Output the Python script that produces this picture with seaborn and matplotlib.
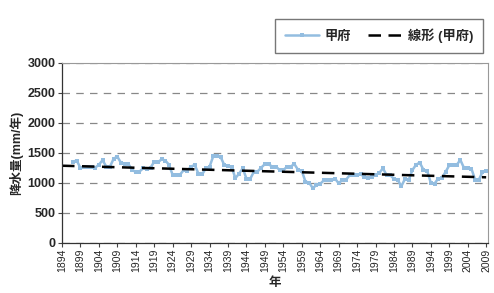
import matplotlib
matplotlib.use('Agg')

import matplotlib.pyplot as plt
import seaborn as sns
import pandas as pd

# ---- data ----
years = list(range(1897, 2010))
rain = [1350, 1370, 1245, 1265, 1255, 1270, 1250, 1300, 1375, 1270,
        1265, 1400, 1435, 1330, 1320, 1310, 1220, 1175, 1185, 1240,
        1235, 1250, 1350, 1340, 1390, 1370, 1300, 1130, 1125, 1135,
        1210, 1200, 1270, 1295, 1150, 1140, 1240, 1265, 1440, 1445,
        1430, 1295, 1280, 1265, 1075, 1150, 1240, 1070, 1060, 1180,
        1185, 1250, 1310, 1305, 1270, 1265, 1215, 1210, 1265, 1270,
        1310, 1215, 1200, 1020, 1000, 910, 960, 980, 1040, 1050,
        1045, 1070, 990, 1045, 1050, 1125, 1130, 1135, 1145, 1090,
        1085, 1095, 1130, 1160, 1240, 1130, 1125, 1065, 1050, 940,
        1065, 1045, 1210, 1300, 1335, 1215, 1200, 995, 985, 1070,
        1080, 1180, 1290, 1300, 1295, 1380, 1245, 1240, 1235, 1050,
        1045, 1180, 1190]
trend_years = [1894, 2009]
trend_values = [1283, 1090]
tick_years = list(range(1894, 2010, 5))
y_ticks = [0, 500, 1000, 1500, 2000, 2500, 3000]

df = pd.DataFrame({"year": years, "rain": rain})
trend = pd.DataFrame({"year": trend_years, "rain": trend_values})

# ---- style ----
sns.set_style("white")
plt.rcParams['font.family'] = ['Liberation Sans', 'Noto Sans CJK JP', 'DejaVu Sans']

fig = plt.figure(figsize=(4.94, 2.93), dpi=100)
ax = fig.add_axes([62 / 494, 1 - 242.7 / 293, 426 / 494, 180 / 293])

sns.lineplot(data=df, x="year", y="rain", ax=ax, color="#93bde0",
             linewidth=1.8, marker="s", markersize=2.8,
             markeredgewidth=0, label="甲府")
sns.lineplot(data=trend, x="year", y="rain", ax=ax, color="black",
             linewidth=1.8, label="線形 (甲府)")
ax.lines[1].set_linestyle((0, (5, 3)))

ax.set_xlim(1894, 2009.5)
ax.set_ylim(0, 3000)
ax.set_yticks(y_ticks)
ax.set_xticks(tick_years)
ax.set_xticklabels([str(y) for y in tick_years], rotation=90, fontsize=7.5)
ax.set_yticklabels([str(v) for v in y_ticks], fontsize=9, fontweight="bold")
ax.tick_params(axis="both", length=3, width=0.8, color="#444444", pad=1.5,
               bottom=True, left=True)

ax.yaxis.grid(True, linestyle=(0, (6, 5)), color="#888888", linewidth=0.9)
ax.xaxis.grid(False)

for side in ["left", "bottom"]:
    ax.spines[side].set_color("#333333")
    ax.spines[side].set_linewidth(0.9)
for side in ["top", "right"]:
    ax.spines[side].set_color("#999999")
    ax.spines[side].set_linewidth(0.8)

ax.set_ylabel("降水量(mm/年)", fontsize=9, fontweight="bold", labelpad=3)
ax.set_xlabel("年", fontsize=9, fontweight="bold", labelpad=3)

leg = ax.legend(loc="lower right", bbox_to_anchor=(0.988, 1.054),
                borderaxespad=0, ncol=2, fontsize=9.5, frameon=True,
                fancybox=False, edgecolor="#555555", handlelength=2.6,
                columnspacing=1.3, borderpad=0.75, handletextpad=0.4)
for t in leg.get_texts():
    t.set_fontweight("bold")

plt.savefig("out.png", dpi=100)
plt.close()
